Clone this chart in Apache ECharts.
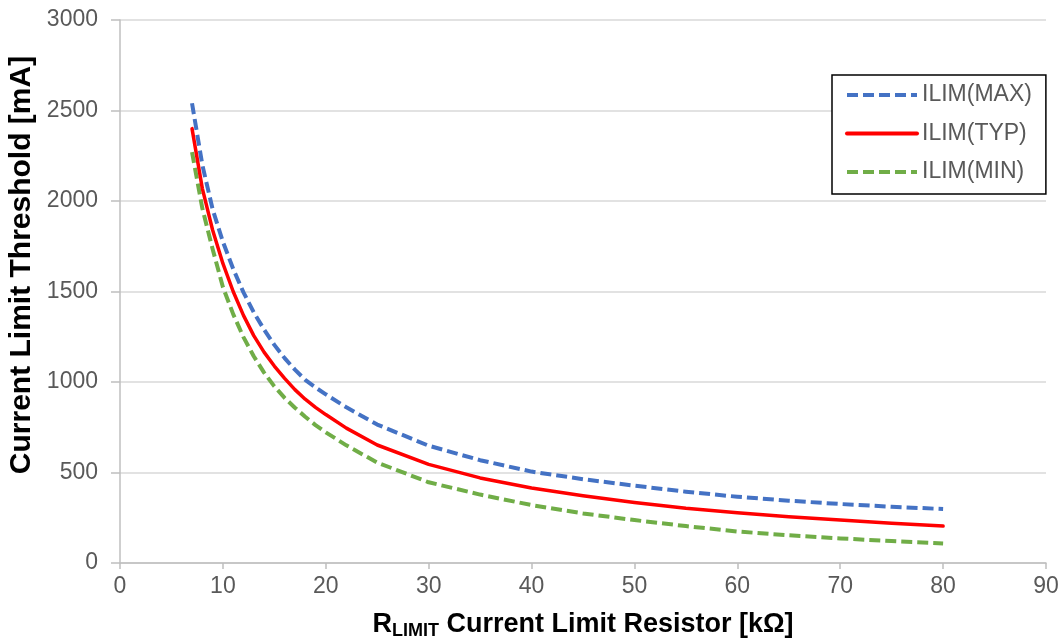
<!DOCTYPE html>
<html>
<head>
<meta charset="utf-8">
<script src="https://cdn.jsdelivr.net/npm/echarts@6/dist/echarts.min.js"></script>
<style>
  html, body { margin: 0; padding: 0; background: #fff; }
  #chart { width: 1063px; height: 644px; }
</style>
</head>
<body>
<div id="chart"></div>
<script>
// Current limit threshold versus R_LIMIT resistor (kΩ -> mA)
const rLimit   = [7, 8, 9, 10, 11, 12, 13, 14, 15, 16, 17, 18, 19, 20, 22, 25, 30, 35, 40, 45, 50, 55, 60, 65, 70, 75, 80];
const ilimMax  = [2540, 2200, 1955, 1775, 1625, 1495, 1385, 1290, 1205, 1132, 1068, 1012, 970, 932, 860, 765, 648, 568, 505, 463, 427, 394, 366, 344, 326, 311, 298];
const ilimTyp  = [2400, 2070, 1840, 1655, 1500, 1368, 1256, 1165, 1088, 1020, 958, 905, 860, 820, 745, 652, 545, 470, 414, 372, 334, 302, 277, 256, 237, 220, 204];
const ilimMin  = [2270, 1960, 1735, 1525, 1375, 1248, 1142, 1052, 976, 912, 858, 808, 762, 722, 650, 555, 446, 378, 320, 274, 237, 204, 174, 153, 136, 121, 108];

const xTicks = { min: 0, max: 90, step: 10 };
const yTicks = { min: 0, max: 3000, step: 500 };

const seriesNames = ['ILIM(MAX)', 'ILIM(TYP)', 'ILIM(MIN)'];
const yTitle = 'Current Limit Threshold [mA]';

const pairs = ys => rLimit.map((x, i) => [x, ys[i]]);

const FONT = "'Liberation Sans', Arial, sans-serif";
const DASH = [11, 5];
const chart = echarts.init(document.getElementById('chart'), null, { renderer: 'canvas' });

chart.setOption({
  animation: false,
  backgroundColor: '#ffffff',
  textStyle: { fontFamily: FONT },
  grid: { left: 120, right: 17, top: 20, bottom: 81, containLabel: false, outerBoundsMode: 'none' },
  graphic: [{
    type: 'text',
    x: 22,
    y: 265,
    rotation: Math.PI / 2,
    style: {
      text: yTitle,
      fontFamily: FONT,
      fontSize: 30,
      fontWeight: 'bold',
      fill: '#000',
      align: 'center',
      verticalAlign: 'middle'
    }
  }],
  legend: {
    orient: 'vertical',
    left: 832,
    top: 75,
    data: seriesNames,
    itemWidth: 70,
    itemHeight: 14,
    itemGap: 14.5,
    padding: [8, 14, 10, 13],
    borderColor: '#000000',
    borderWidth: 1.5,
    backgroundColor: '#ffffff',
    itemStyle: { opacity: 0 },
    lineStyle: { width: 4 },
    textStyle: { fontFamily: FONT, fontSize: 23, color: '#595959', lineHeight: 24 }
  },
  xAxis: {
    type: 'value',
    min: xTicks.min,
    max: xTicks.max,
    interval: xTicks.step,
    name: '{r|R}{sub|LIMIT}{n| Current Limit Resistor [kΩ]}',
    nameLocation: 'middle',
    nameGap: 47,
    nameTextStyle: {
      rich: {
        r:   { fontFamily: FONT, fontSize: 27, fontWeight: 'bold', color: '#000' },
        sub: { fontFamily: FONT, fontSize: 18, fontWeight: 'bold', color: '#000', padding: [12, 0, 0, 0] },
        n:   { fontFamily: FONT, fontSize: 27, fontWeight: 'bold', color: '#000' }
      }
    },
    axisLine: { show: true, lineStyle: { color: '#bfbfbf', width: 1.5 } },
    axisTick: { show: true, inside: false, length: 6, lineStyle: { color: '#bfbfbf', width: 1.5 } },
    axisLabel: { fontFamily: FONT, fontSize: 23, color: '#595959', margin: 12 },
    splitLine: { show: false }
  },
  yAxis: {
    type: 'value',
    min: yTicks.min,
    max: yTicks.max,
    interval: yTicks.step,
    axisLine: { show: true, lineStyle: { color: '#bfbfbf', width: 1.5 } },
    axisTick: { show: true, inside: false, length: 9, lineStyle: { color: '#bfbfbf', width: 1.5 } },
    axisLabel: { fontFamily: FONT, fontSize: 23, color: '#595959', margin: 22, formatter: v => String(v) },
    splitLine: { show: true, lineStyle: { color: '#d9d9d9', width: 1.5 } }
  },
  series: [
    {
      name: seriesNames[0], type: 'line', data: pairs(ilimMax),
      symbol: 'none', smooth: false,
      lineStyle: { color: '#4472c4', width: 4, type: DASH, join: 'round' },
      itemStyle: { color: '#4472c4' }, z: 3
    },
    {
      name: seriesNames[1], type: 'line', data: pairs(ilimTyp),
      symbol: 'none', smooth: false,
      lineStyle: { color: '#ff0000', width: 3.5, type: 'solid', cap: 'round', join: 'round' },
      itemStyle: { color: '#ff0000' }, z: 4
    },
    {
      name: seriesNames[2], type: 'line', data: pairs(ilimMin),
      symbol: 'none', smooth: false,
      lineStyle: { color: '#70ad47', width: 4, type: DASH, join: 'round' },
      itemStyle: { color: '#70ad47' }, z: 3
    }
  ]
});
</script>
</body>
</html>
